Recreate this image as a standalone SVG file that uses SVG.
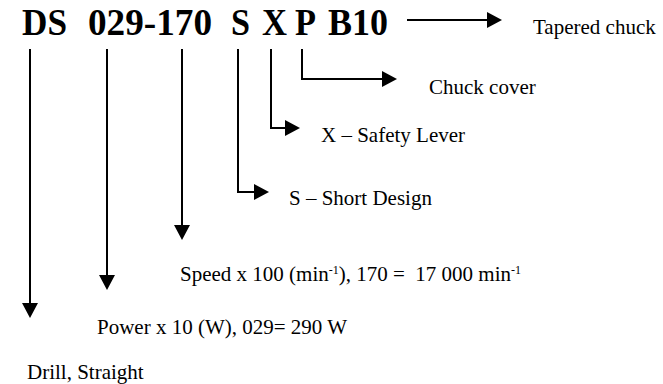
<svg xmlns="http://www.w3.org/2000/svg" width="663" height="384" viewBox="0 0 663 384">
<defs>
<style>
.title{font-family:"Liberation Serif","Times New Roman",serif;font-weight:bold;font-size:37px;fill:#000}
.lbl{font-family:"Liberation Serif","Times New Roman",serif;font-size:21px;fill:#000}
.sup{font-size:12px}
.con{fill:none;stroke:#000;stroke-width:2;marker-end:url(#ah)}
</style>
<marker id="ah" markerUnits="userSpaceOnUse" markerWidth="15" markerHeight="16" refX="0" refY="8" orient="auto">
<path d="M0,0 L15,8 L0,16 z" fill="#000"/>
</marker>
</defs>
<rect width="663" height="384" fill="#fff"/>
<g id="code">
<text class="title" y="35"><tspan x="22" textLength="45" lengthAdjust="spacingAndGlyphs">DS</tspan><tspan x="88" textLength="124" lengthAdjust="spacingAndGlyphs">029-170</tspan><tspan x="231" textLength="19" lengthAdjust="spacingAndGlyphs">S</tspan><tspan x="262" textLength="25" lengthAdjust="spacingAndGlyphs">X</tspan><tspan x="295" textLength="21" lengthAdjust="spacingAndGlyphs">P</tspan><tspan x="328" textLength="60" lengthAdjust="spacingAndGlyphs">B10</tspan></text>
</g>
<g id="connectors">
<path class="con" d="M407,20 H487"/>
<path class="con" d="M302,49 V79 H382"/>
<path class="con" d="M271,49 V128 H285"/>
<path class="con" d="M238,49 V192 H254"/>
<path class="con" d="M182,49 V225"/>
<path class="con" d="M107,49 V275"/>
<path class="con" d="M30,49 V303"/>
</g>
<g id="tapered"><text class="lbl" x="533" y="34">Tapered chuck</text></g>
<g id="cover"><text class="lbl" x="429" y="94">Chuck cover</text></g>
<g id="safety"><text class="lbl" x="321" y="142">X – Safety Lever</text></g>
<g id="short"><text class="lbl" x="289" y="205">S – Short Design</text></g>
<g id="speed"><text class="lbl" x="180" y="281">Speed x 100 (min<tspan class="sup" dy="-7">-1</tspan><tspan dy="7">), 170 = &#160;17 000 min</tspan><tspan class="sup" dy="-7">-1</tspan></text></g>
<g id="power"><text class="lbl" x="97" y="334">Power x 10 (W), 029= 290 W</text></g>
<g id="drill"><text class="lbl" x="27" y="379">Drill, Straight</text></g>
</svg>
